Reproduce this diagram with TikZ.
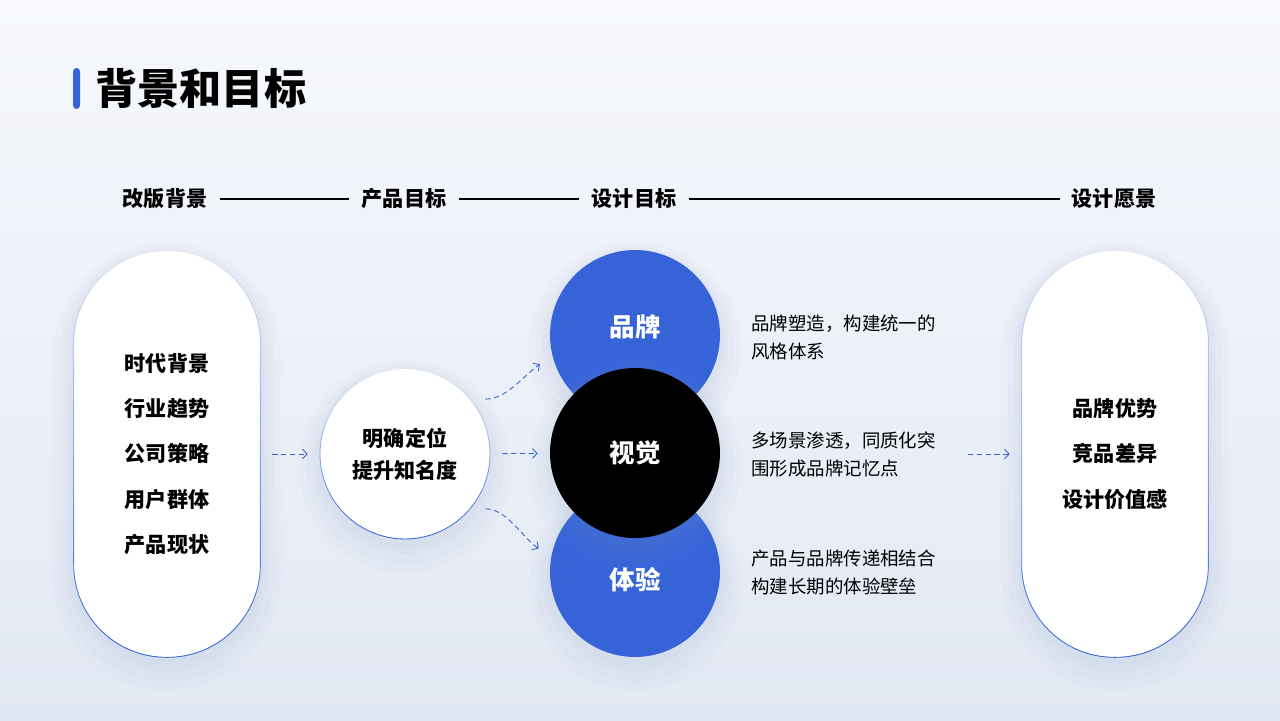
\documentclass[tikz,border=0pt]{standalone}
\usepackage{fontspec}
\setmainfont{Noto Sans CJK SC}
\usetikzlibrary{fadings,arrows.meta}
\definecolor{brandblue}{HTML}{3664D8}
\definecolor{bgtop}{HTML}{F6F8FC}
\definecolor{bgbot}{HTML}{E2E8F3}
\definecolor{shadowblue}{HTML}{8A9BC4}
\tikzset{
  softshadow/.style={
    preaction={draw=shadowblue,draw opacity=0.035,line width=24pt,transform canvas={yshift=-7pt}},
    preaction={draw=shadowblue,draw opacity=0.04,line width=16pt,transform canvas={yshift=-6pt}},
    preaction={draw=shadowblue,draw opacity=0.04,line width=9pt,transform canvas={yshift=-4pt}},
    preaction={draw=shadowblue,draw opacity=0.04,line width=4pt,transform canvas={yshift=-3pt}}},
  pill/.style={rectangle,fill=white,rounded corners=1.85cm,minimum width=3.72cm,minimum height=8.12cm,inner sep=0pt,align=center,font=\fontsize{12}{25.8}\selectfont\bfseries,softshadow},
  rim/.style={draw=brandblue,line width=0.5pt,path fading=north},
  header/.style={inner sep=0pt,font=\fontsize{12}{14}\selectfont\bfseries},
  goal/.style={circle,minimum size=3.4cm,inner sep=0pt,fill=brandblue,softshadow},
  goaltext/.style={text=white,font=\fontsize{14.5}{16}\selectfont\bfseries},
  note/.style={anchor=west,inner sep=0pt,align=left,font=\fontsize{10.5}{16.4}\selectfont},
  flow/.style={-{Straight Barb[length=2.6pt,width=5.5pt]},brandblue,densely dashed,line width=0.5pt,shorten <=0.24cm,shorten >=0.24cm},
  timeline/.style={line width=0.6pt,shorten <=0.24cm,shorten >=0.24cm}
}
\begin{document}
\begin{tikzpicture}[x=0.02cm,y=-0.02cm]
\useasboundingbox (0,0) rectangle (1280,720);
\shade[top color=bgtop,bottom color=bgbot] (0,0) rectangle (1280,720);

\fill[brandblue,rounded corners=0.07cm] (73,68) rectangle (80,109);
\node[anchor=west,inner sep=0pt,font=\fontsize{24}{26}\selectfont\bfseries] (title) at (95,88) {背景和目标};

\node[header] (h1) at (165,199) {改版背景};
\node[header] (h2) at (404,199) {产品目标};
\node[header] (h3) at (634,199) {设计目标};
\node[header] (h4) at (1114,199) {设计愿景};
\draw[timeline] (h1) -- (h2);
\draw[timeline] (h2) -- (h3);
\draw[timeline] (h3) -- (h4);

\node[pill] (bg) at (167,454) {时代背景\\行业趋势\\公司策略\\用户群体\\产品现状};
\draw[rim,rounded corners=1.85cm] (bg.north west) rectangle (bg.south east);

\node[circle,fill=white,minimum size=3.4cm,inner sep=0pt,align=center,font=\fontsize{12}{18}\selectfont\bfseries,softshadow] (pos) at (405,454) {明确定位\\提升知名度};
\draw[rim] (pos.center) circle[radius=1.7cm];

\node[goal] (brand) at (635,335) {};
\node[goal] (exp) at (635,572) {};
\node[goal,fill=black] (vis) at (635,453) {};
\node[goaltext] (brandtxt) at (635,327) {品牌};
\node[goaltext] (vistxt) at (635,453) {视觉};
\node[goaltext] (exptxt) at (635,580) {体验};

\node[note] (n1) at (751,337.5) {品牌塑造，构建统一的\\风格体系};
\node[note] (n2) at (751,454.5) {多场景渗透，同质化突\\围形成品牌记忆点};
\node[note] (n3) at (751,572.5) {产品与品牌传递相结合\\构建长期的体验壁垒};

\node[pill] (vision) at (1115,454) {品牌优势\\竞品差异\\设计价值感};
\draw[rim,rounded corners=1.85cm] (vision.north west) rectangle (vision.south east);

\coordinate (g3) at (956,454);
\draw [flow](pos) (bg) edge (pos);
\draw [flow](vis) (pos) edge (vis);
\draw [flow,shorten <=0.3cm,shorten >=0.3cm] (pos.40) to[out=0,in=215] (brand.194);
\draw [flow,shorten <=0.3cm,shorten >=0.3cm] (pos.-40) to[out=0,in=145] (exp.170);
\draw [flow] (g3) -- (vision);

\end{tikzpicture}
\end{document}
